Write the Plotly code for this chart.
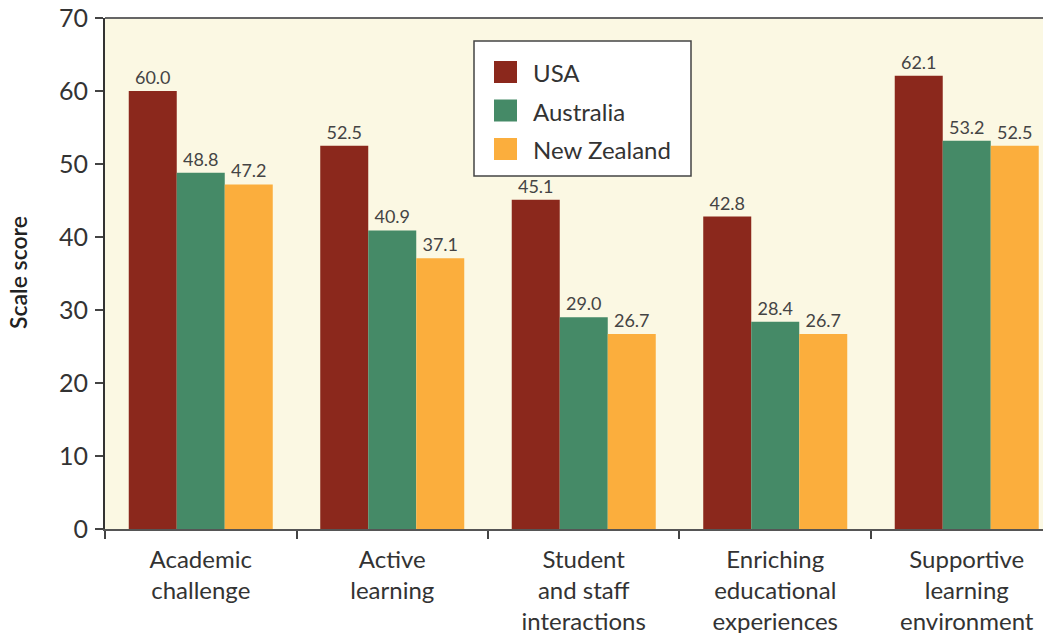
import plotly.graph_objects as go

categories = ["Academic<br>challenge", "Active<br>learning", "Student<br>and staff<br>interactions",
              "Enriching<br>educational<br>experiences", "Supportive<br>learning<br>environment"]
usa = [60.0, 52.5, 45.1, 42.8, 62.1]
australia = [48.8, 40.9, 29.0, 28.4, 53.2]
new_zealand = [47.2, 37.1, 26.7, 26.7, 52.5]
series = [("USA", usa, "#8B281C"), ("Australia", australia, "#458A67"), ("New Zealand", new_zealand, "#FBAE3D")]
y_ticks = [0, 10, 20, 30, 40, 50, 60, 70]

FONT = "Lato"
OFF = 8  # page body margin
W, H = 1051 - OFF, 633 - OFF
L, R, T, B = 105 - OFF, 0, 18 - OFF, 104
PW, PH = W - L - R, H - T - B

def px(xs):
    return (xs - OFF - L) / PW

def py(ys):
    return (H - B - (ys - OFF)) / PH

fig = go.Figure()
for name, vals, col in series:
    fig.add_trace(go.Bar(
        x=categories, y=vals, name=name, marker=dict(color=col, line=dict(width=0)),
        text=[f"{v:.1f}" for v in vals], textposition="outside", cliponaxis=False,
        textfont=dict(family=FONT, size=18, color="#444"), showlegend=False,
    ))

fig.update_layout(
    width=W, height=H, barmode="group", bargap=0.248, bargroupgap=0,
    margin=dict(l=L, r=R, t=T, b=B),
    paper_bgcolor="white", plot_bgcolor="#FBF8E3",
    font=dict(family=FONT, color="#333"),
    showlegend=False,
    xaxis=dict(range=[-0.5, 4.44], tickson="boundaries", ticks="outside", ticklen=8,
               tickcolor="#444", tickwidth=1.5, showline=True, linecolor="#555", linewidth=2,
               tickfont=dict(family=FONT, size=24, color="#333"), showgrid=False, automargin=False,
               ticklabelstandoff=8, ticklabeloverflow="allow"),
    yaxis=dict(range=[0, 70], tickvals=y_ticks, ticks="outside", ticklen=8, tickcolor="#444",
               tickwidth=1.5, showline=True, linecolor="#333", linewidth=2, showgrid=False,
               zeroline=False, tickfont=dict(family=FONT, size=25, color="#333"), automargin=False,
               ticklabelstandoff=2, ticklabeloverflow="allow"),
)
fig.add_shape(type="line", xref="paper", yref="paper", x0=0, x1=1, y0=1, y1=1,
              line=dict(color="#666", width=2))
fig.add_annotation(text="Scale score", xref="paper", yref="paper", x=px(18), y=py(273),
                   textangle=-90, showarrow=False, xanchor="center", yanchor="middle",
                   font=dict(family=FONT, size=23, color="#222", weight=600))

# legend box
fig.add_shape(type="rect", xref="paper", yref="paper", x0=px(474), x1=px(691), y0=py(176), y1=py(41),
              fillcolor="white", line=dict(color="#444", width=1.5), layer="above")
for i, (name, vals, col) in enumerate(series):
    top = 61 + i * 38.5
    fig.add_shape(type="rect", xref="paper", yref="paper", x0=px(494), x1=px(517),
                  y0=py(top + 22), y1=py(top), fillcolor=col, line=dict(width=0), layer="above")
    fig.add_annotation(text=name, xref="paper", yref="paper", x=px(531), y=py(top + 11.5),
                       xanchor="left", yanchor="middle", showarrow=False,
                       font=dict(family=FONT, size=24, color="#333"))
fig.write_html("out.html")
